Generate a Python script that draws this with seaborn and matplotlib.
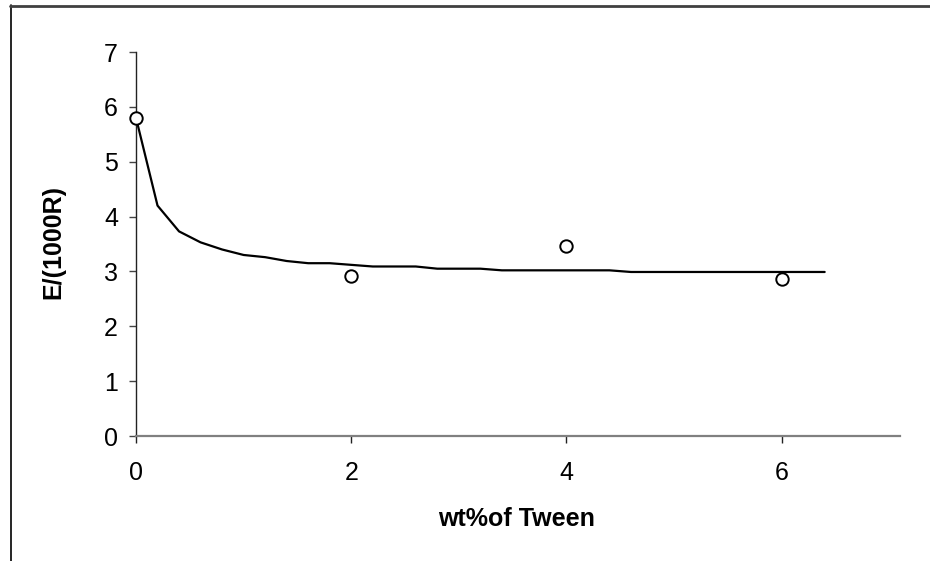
import matplotlib
matplotlib.use("Agg")
import matplotlib.pyplot as plt
from matplotlib.lines import Line2D
import numpy as np
import pandas as pd
import seaborn as sns

# Fitted curve sampled every 0.2 wt%
fit_x = [0.0, 0.2, 0.4, 0.6, 0.8, 1.0, 1.2, 1.4, 1.6, 1.8, 2.0, 2.2, 2.4, 2.6,
         2.8, 3.0, 3.2, 3.4, 3.6, 3.8, 4.0, 4.2, 4.4, 4.6, 4.8, 5.0, 5.2, 5.4,
         5.6, 5.8, 6.0, 6.2, 6.4]
fit_y = [5.80, 4.20, 3.73, 3.53, 3.40, 3.30, 3.26, 3.19, 3.15, 3.15, 3.12, 3.09,
         3.09, 3.09, 3.05, 3.05, 3.05, 3.02, 3.02, 3.02, 3.02, 3.02, 3.02, 2.99,
         2.99, 2.99, 2.99, 2.99, 2.99, 2.99, 2.99, 2.99, 2.99]

# Measured points
meas_x = [0, 2, 4, 6]
meas_y = [5.79, 2.91, 3.46, 2.87]

x_ticks = [0, 2, 4, 6]
y_ticks = [0, 1, 2, 3, 4, 5, 6, 7]

sns.set_theme(style="ticks")
plt.rcParams["font.family"] = ["Liberation Sans", "DejaVu Sans"]

fig = plt.figure(figsize=(9.3, 5.61), dpi=100)
ax = fig.add_axes([136 / 930, 1 - 436 / 561, 764 / 930, 384 / 561])

fit_df = pd.DataFrame({"x": fit_x, "y": fit_y})
meas_df = pd.DataFrame({"x": meas_x, "y": meas_y})

sns.lineplot(data=fit_df, x="x", y="y", ax=ax, color="black", linewidth=1.6,
             estimator=None, sort=False)
sns.scatterplot(data=meas_df, x="x", y="y", ax=ax, marker="o", s=80,
                facecolor="white", edgecolor="black", linewidth=1.4, zorder=5,
                clip_on=False)

ax.set_xlim(0, 7.1)
ax.set_ylim(0, 7)
ax.set_xticks(x_ticks)
ax.set_yticks(y_ticks)

for s in ["top", "right"]:
    ax.spines[s].set_visible(False)
ax.spines["left"].set_color("#222222")
ax.spines["bottom"].set_color("#808080")
ax.spines["left"].set_linewidth(1.0)
ax.spines["bottom"].set_linewidth(1.6)

ax.tick_params(axis="y", direction="out", length=5, width=1.0, color="#444444",
               labelsize=18, pad=8, labelcolor="black")
ax.tick_params(axis="x", direction="out", length=5, width=1.0, color="#222222",
               labelsize=18, pad=13, labelcolor="black")

ax.set_xlabel("wt%of Tween", fontsize=18, fontweight="bold", color="black")
ax.set_ylabel("E/(1000R)", fontsize=18, fontweight="bold", color="black")
ax.xaxis.label.set_va("center")
ax.yaxis.label.set_va("center")
ax.xaxis.set_label_coords(0.4987, -0.216)
ax.yaxis.set_label_coords(-0.1086, 0.504)

# Frame lines along the top and left edges of the figure
fig.add_artist(Line2D([10.5 / 930, 10.5 / 930], [0, 1 - 5 / 561],
                      transform=fig.transFigure, color="black", linewidth=1.2))
fig.add_artist(Line2D([10 / 930, 1], [1 - 5.5 / 561, 1 - 5.5 / 561],
                      transform=fig.transFigure, color="#404040", linewidth=2.0))

fig.savefig("out.png", dpi=100, facecolor="white")
